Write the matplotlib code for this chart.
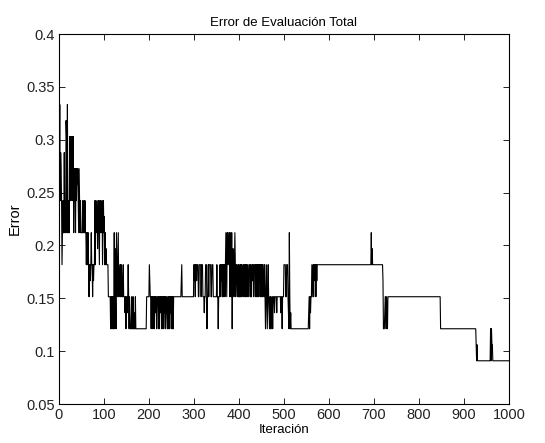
import numpy as np
import matplotlib
matplotlib.use("Agg")
import matplotlib.pyplot as plt

# Error levels are expressed in units of 1/66; run lengths in iterations
UNIT = 66.0
run_levels = [
    19, 18, 22, 16, 19, 18, 16, 12, 14, 16,
    14, 19, 14, 16, 14, 21, 20, 14, 22, 14, 16, 14,
    20, 16, 20, 16, 20, 18, 20, 16, 20, 14, 18,
    16, 18, 14, 18, 16, 18, 17, 18, 16, 14, 18, 16, 14, 16, 14,
    14, 16, 14, 16, 14, 16, 14, 12,
    14, 12, 14, 12, 10, 12, 11, 12, 14, 12, 10, 12, 11, 12,
    12, 16, 12, 16, 14, 15, 16, 13, 15, 16, 14, 12, 16, 14, 16, 15, 14, 16, 12, 14, 16,
    14, 15, 12, 14, 12, 13, 12,
    10, 8, 10,
    8, 10, 8, 10, 8, 9, 14, 8, 13, 10, 8, 14, 12,
    10, 12, 14, 10, 12, 11, 10, 12, 10, 12, 11, 10, 12, 10,
    10, 9, 10, 8, 10, 9, 10, 12, 10, 8, 10, 9, 8,
    8, 10, 8, 10, 8, 9, 8, 10, 8,
    8,
    10, 12, 11, 10,
    8, 10, 9, 10, 8, 10, 8, 10, 9, 10,
    8, 10, 8, 10, 8, 10, 9, 10, 8, 10,
    8, 10, 8, 10, 9, 10, 8, 10, 9, 8,
    10, 8, 10, 8, 10, 9, 10, 8, 10, 8, 10, 8,
    10, 11, 12, 10,
    12, 11, 12, 10, 12, 11, 12, 10, 12, 10, 12, 10, 9, 10, 12,
    8,
    10, 12, 10, 12, 10, 12, 10, 12, 10,
    8,
    10, 12, 10, 12, 11, 12, 10, 12, 10, 12, 11, 12, 10, 12,
    14, 12, 10, 14, 12, 14, 13, 12, 14, 10, 14, 12, 10, 14, 8, 12, 13, 12, 10, 12, 14,
    12, 10, 12, 11, 10, 12, 10, 12, 10, 12,
    10, 12, 10, 12, 11, 10, 12, 10, 12, 10,
    12, 10, 12, 10, 12, 11, 10, 12, 10, 12,
    10, 12, 11, 12, 10, 12, 10, 12,
    10, 12, 10, 12, 10, 12, 11, 12, 10, 12, 10, 12, 10, 12, 10, 12, 11, 10, 12, 10,
    8, 10, 12, 10, 8, 10, 12, 10, 9, 8, 10,
    8, 10, 8, 9, 10, 8, 10, 9, 10, 9, 10, 9, 10, 8,
    10, 12, 10, 12, 10, 9, 8, 14, 10, 8, 9, 8,
    8,
    9, 10, 8, 10, 9, 10, 12, 11, 10, 12, 10, 12, 11, 12, 10, 12, 11, 12,
    12,
    14, 12, 13,
    12,
    11, 8, 9, 10, 8, 10, 9, 8, 10,
    10,
    8,
    7, 6, 7, 6,
    8, 6, 8, 7,
    6,
]
run_lengths = [
    1, 1, 1, 1, 1, 1, 1, 1, 1, 1,
    2, 1, 1, 1, 1, 1, 1, 1, 1, 2, 1, 1,
    1, 1, 1, 1, 1, 1, 1, 1, 1, 1, 1,
    1, 1, 1, 1, 1, 1, 1, 1, 1, 1, 1, 1, 1, 1, 1,
    3, 1, 2, 1, 1, 1, 2, 1,
    2, 1, 1, 1, 1, 2, 1, 1, 1, 2, 1, 1, 1, 1,
    1, 1, 1, 1, 1, 1, 1, 1, 1, 1, 1, 1, 1, 1, 1, 1, 1, 1, 1, 1, 1,
    1, 1, 1, 1, 1, 1, 4,
    5, 1, 1,
    1, 1, 1, 1, 1, 1, 1, 1, 1, 1, 1, 1, 1,
    1, 1, 1, 1, 1, 1, 1, 1, 1, 1, 1, 2, 1, 1,
    2, 1, 1, 1, 2, 1, 1, 1, 1, 1, 1, 1, 1,
    2, 1, 2, 1, 1, 1, 2, 1, 4,
    20,
    6, 1, 1, 2,
    1, 1, 1, 1, 1, 2, 1, 1, 1, 2,
    1, 3, 1, 1, 1, 2, 1, 1, 1, 2,
    1, 1, 1, 1, 1, 1, 1, 2, 1, 1,
    1, 1, 2, 1, 1, 1, 1, 1, 1, 1, 1, 1,
    17, 1, 1, 26,
    1, 1, 1, 1, 2, 1, 3, 2, 4, 1, 3, 3, 1, 2, 3,
    1,
    2, 1, 1, 4, 2, 3, 8, 1, 2,
    1,
    3, 1, 1, 1, 1, 1, 1, 1, 1, 1, 1, 1, 1, 1,
    1, 1, 1, 1, 1, 1, 1, 1, 1, 1, 1, 1, 1, 1, 1, 1, 1, 1, 1, 1, 1,
    1, 1, 2, 1, 1, 1, 1, 1, 2, 1,
    1, 1, 1, 1, 1, 1, 1, 1, 2, 1,
    1, 1, 1, 1, 1, 1, 1, 3, 1, 1,
    2, 1, 1, 2, 1, 3, 1, 1,
    1, 1, 1, 1, 1, 1, 1, 1, 1, 1, 1, 1, 1, 1, 1, 1, 1, 1, 1, 1,
    1, 1, 1, 1, 1, 1, 1, 1, 1, 1, 1,
    1, 1, 1, 1, 1, 1, 3, 1, 4, 1, 8, 1, 2, 1,
    3, 4, 2, 3, 1, 1, 1, 1, 1, 1, 1, 1,
    38,
    1, 1, 1, 1, 1, 2, 1, 1, 1, 1, 1, 2, 1, 1, 1, 1, 1, 2,
    118,
    1, 1, 1,
    23,
    1, 3, 1, 2, 1, 1, 1, 1, 1,
    116,
    79,
    1, 1, 1, 29,
    1, 1, 1, 2,
    36,
]

x_ticks = [0, 100, 200, 300, 400, 500, 600, 700, 800, 900, 1000]
y_ticks = [0.05, 0.1, 0.15, 0.2, 0.25, 0.3, 0.35, 0.4]
y_tick_labels = ["0.05", "0.1", "0.15", "0.2", "0.25", "0.3", "0.35", "0.4"]

error = np.repeat(np.array(run_levels) / UNIT, run_lengths)
iters = np.arange(len(error))

plt.rcParams['font.family'] = ['Liberation Sans', 'DejaVu Sans']
fig = plt.figure(figsize=(5.45, 4.43), dpi=100)
ax = fig.add_axes([0.108, 0.088, 0.826, 0.835])
ax.plot(iters, error, color='black', lw=0.8)
ax.set_xlim(0, 1000)
ax.set_ylim(0.05, 0.4)
ax.set_xticks(x_ticks)
ax.set_xticklabels([str(t) for t in x_ticks])
ax.set_yticks(y_ticks)
ax.set_yticklabels(y_tick_labels)
ax.tick_params(direction='in', top=True, right=True, labelsize=10.5, length=4, width=0.6, pad=3)
for lab in ax.get_xticklabels() + ax.get_yticklabels():
    lab.set_family(['Liberation Sans Narrow', 'Liberation Sans', 'DejaVu Sans'])
    lab.set_color('#222222')
for s in ax.spines.values():
    s.set_linewidth(0.8)
ax.set_title("Error de Evaluación Total", fontsize=9.5, pad=6)
ax.set_xlabel("Iteración", fontsize=9.5, labelpad=1)
ax.set_ylabel("Error", fontsize=10.5, labelpad=3)
fig.savefig("out.png", dpi=100)
